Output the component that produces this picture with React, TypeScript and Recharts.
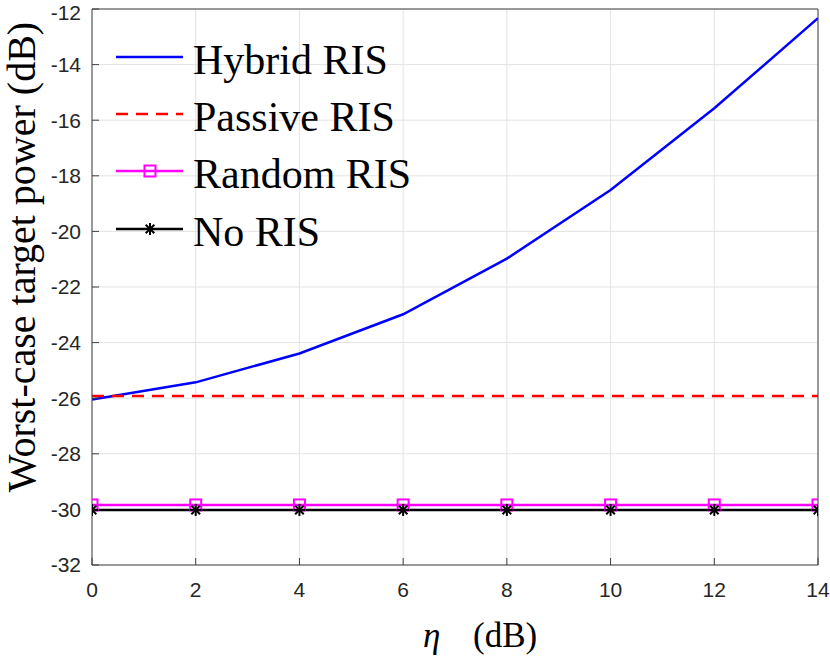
import { LineChart, Line, XAxis, YAxis, CartesianGrid, Legend, Label } from 'recharts';

const eta = [0, 2, 4, 6, 8, 10, 12, 14];
const hybridRis = [-26.05, -25.43, -24.39, -22.98, -20.98, -18.51, -15.57, -12.33];
const passiveRis = [-25.92, -25.92, -25.92, -25.92, -25.92, -25.92, -25.92, -25.92];
const randomRis = [-29.84, -29.84, -29.84, -29.84, -29.84, -29.84, -29.84, -29.84];
const noRis = [-30.02, -30.02, -30.02, -30.02, -30.02, -30.02, -30.02, -30.02];

const xTicks = [0, 2, 4, 6, 8, 10, 12, 14];
const yTicks = [-32, -30, -28, -26, -24, -22, -20, -18, -16, -14, -12];

const data = eta.map((e, i) => ({
  eta: e,
  hybrid: hybridRis[i],
  passive: passiveRis[i],
  random: randomRis[i],
  none: noRis[i],
}));

const AXIS = '#404040';
const TICK_FONT = { fontSize: 21, fill: '#262626', fontFamily: '"Liberation Sans", Arial, sans-serif' };
const SERIF = '"Liberation Serif", "Times New Roman", serif';

const SquareDot = ({ cx, cy }: any) => {
  if (cx == null || cy == null) return null;
  return <rect x={cx - 5.5} y={cy - 5.5} width={11} height={11} fill="none" stroke="#ff00ff" strokeWidth={2} />;
};

const StarDot = ({ cx, cy }: any) => {
  if (cx == null || cy == null) return null;
  const r = 6;
  const d = r * 0.72;
  return (
    <g stroke="#000" strokeWidth={2}>
      <line x1={cx - r} y1={cy} x2={cx + r} y2={cy} />
      <line x1={cx} y1={cy - r} x2={cx} y2={cy + r} />
      <line x1={cx - d} y1={cy - d} x2={cx + d} y2={cy + d} />
      <line x1={cx - d} y1={cy + d} x2={cx + d} y2={cy - d} />
    </g>
  );
};

const legendItems = [
  { name: 'Hybrid RIS', color: '#0000ff', dash: undefined, marker: null },
  { name: 'Passive RIS', color: '#ff0000', dash: '12 8', marker: null },
  { name: 'Random RIS', color: '#ff00ff', dash: undefined, marker: 'square' },
  { name: 'No RIS', color: '#000000', dash: undefined, marker: 'star' },
];

const renderLegend = () => (
  <div>
    {legendItems.map((item) => (
      <div key={item.name} style={{ display: 'flex', alignItems: 'center', height: 57.3 }}>
        <svg width={77} height={30} style={{ flex: 'none' }}>
          <line x1={0} y1={15} x2={67} y2={15} stroke={item.color} strokeWidth={2.5} strokeDasharray={item.dash} />
          {item.marker === 'square' && <SquareDot cx={34} cy={15} />}
          {item.marker === 'star' && <StarDot cx={34} cy={15} />}
        </svg>
        <span style={{ fontFamily: SERIF, fontSize: 42, lineHeight: 1, color: '#000', whiteSpace: 'nowrap', marginTop: 6 }}>
          {item.name}
        </span>
      </div>
    ))}
  </div>
);

const XLabel = ({ viewBox }: any) => {
  const cx = viewBox.x + viewBox.width / 2;
  const y = viewBox.y + 82;
  return (
    <text y={y} fontFamily={SERIF} fontSize={35} fill="#000">
      <tspan x={cx - 32} fontStyle="italic">η</tspan>
      <tspan x={cx + 18}>(dB)</tspan>
    </text>
  );
};

const YLabel = ({ viewBox }: any) => {
  const x = 35;
  const y = viewBox.y + 248;
  return (
    <text x={x} y={y} transform={`rotate(-90, ${x}, ${y})`} textAnchor="middle" fontFamily={SERIF} fontSize={40} fill="#000">
      Worst-case target power (dB)
    </text>
  );
};

export default function App() {
  return (
    <div style={{ position: 'absolute', top: 0, left: 0, width: 830, height: 661, background: '#fff' }}>
      <LineChart width={830} height={661} data={data} margin={{ top: 8, right: 11, left: 0, bottom: 0 }}>
        <CartesianGrid stroke="#e3e3e3" strokeWidth={1} />
        <XAxis
          dataKey="eta"
          type="number"
          domain={[0, 14]}
          ticks={xTicks}
          allowDataOverflow
          height={96}
          stroke={AXIS}
          tickSize={-7}
          tickMargin={24}
          tick={TICK_FONT}
        >
          <Label content={<XLabel />} />
        </XAxis>
        <XAxis
          xAxisId="top"
          orientation="top"
          dataKey="eta"
          type="number"
          domain={[0, 14]}
          ticks={xTicks}
          allowDataOverflow
          height={1}
          stroke={AXIS}
          tickSize={-7}
          tick={false}
        />
        <YAxis
          type="number"
          domain={[-32, -12]}
          ticks={yTicks}
          allowDataOverflow
          width={92}
          stroke={AXIS}
          tickSize={-7}
          tickMargin={18}
          tick={TICK_FONT}
        >
          <Label content={<YLabel />} />
        </YAxis>
        <YAxis
          yAxisId="right"
          orientation="right"
          type="number"
          domain={[-32, -12]}
          ticks={yTicks}
          allowDataOverflow
          width={1}
          stroke={AXIS}
          tickSize={-7}
          tick={false}
        />
        <Legend
          content={renderLegend}
          layout="vertical"
          verticalAlign="middle"
          align="center"
          wrapperStyle={{ top: 28, left: 116, width: 340, height: 230 }}
        />
        <Line dataKey="hybrid" stroke="#0000ff" strokeWidth={2.5} dot={false} isAnimationActive={false} />
        <Line dataKey="passive" stroke="#ff0000" strokeWidth={2.5} strokeDasharray="12 8" dot={false} isAnimationActive={false} />
        <Line dataKey="random" stroke="#ff00ff" strokeWidth={2.5} dot={<SquareDot />} isAnimationActive={false} />
        <Line dataKey="none" stroke="#000000" strokeWidth={2.5} dot={<StarDot />} isAnimationActive={false} />
      </LineChart>
    </div>
  );
}
